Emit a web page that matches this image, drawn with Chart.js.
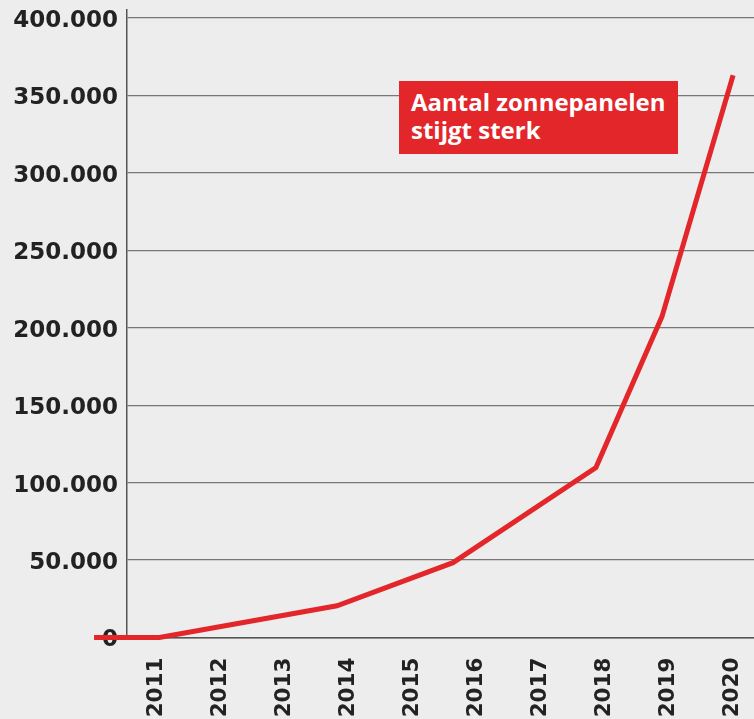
<!DOCTYPE html>
<html>
<head>
<meta charset="utf-8">
<script src="https://cdn.jsdelivr.net/npm/chart.js@4"></script>
<style>
  html, body { margin: 0; padding: 0; background: #ededed; }
  #wrap { position: relative; width: 754px; height: 719px; }
  #note {
    position: absolute; left: 399px; top: 81px; width: 279px; height: 73px;
    box-sizing: border-box; padding: 7px 0 0 12px;
    background: #e3262a; color: #fff;
    font-family: "Open Sans", sans-serif; font-weight: 700; font-size: 24px; line-height: 28px;
  }
</style>
</head>
<body>
<div id="wrap">
  <canvas id="chart" width="754" height="719"></canvas>
  <div id="note">Aantal zonnepanelen<br>stijgt sterk</div>
</div>
<script>
// years on the axis
const yearLabels = [2011, 2012, 2013, 2014, 2015, 2016, 2017, 2018, 2019, 2020];
const yTicks = [0, 50000, 100000, 150000, 200000, 250000, 300000, 350000, 400000];

// points (fractional year, number of panels)
const pointYears = [2010.08, 2011.1, 2013.87, 2015.68, 2017.91, 2018.94, 2020.05];
const panelCounts = [0, 0, 20500, 48300, 109700, 207200, 363000];

const red = "#e3262a";
const textColor = "#222";

function fmt(v) {
  return String(v).replace(/\B(?=(\d{3})+(?!\d))/g, ".");
}

const ctx = document.getElementById("chart").getContext("2d");
const chart = new Chart(ctx, {
  type: "line",
  data: {
    datasets: [
      {
        data: pointYears.map((x, i) => ({ x: x, y: panelCounts[i] })),
        borderColor: red,
        borderWidth: 5,
        pointRadius: 0,
        tension: 0,
        clip: false,
      },
    ],
  },
  options: {
    responsive: false,
    animation: false,
    devicePixelRatio: 1,
    layout: { padding: { top: 10, right: 0, left: 0, bottom: 0 } },
    plugins: { legend: { display: false }, tooltip: { enabled: false } },
    scales: {
      x: {
        type: "linear",
        min: 2010.594,
        max: 2020.376,
        afterBuildTicks: (s) => { s.ticks = yearLabels.map((v) => ({ value: v })); },
        afterFit: (s) => {
          s.height = 81.5;
          s.paddingLeft = 0;
          s.paddingRight = 0;
        },
        grid: { display: false, drawTicks: false },
        border: { color: "#555", width: 1.5 },
        ticks: {
          autoSkip: false,
          minRotation: 90,
          maxRotation: 90,
          padding: 20,
          labelOffset: 3,
          color: textColor,
          font: { family: "DejaVu Sans", weight: "bold", size: 21.5 },
          callback: (v) => String(v),
        },
      },
      y: {
        min: 0,
        max: 405170,
        afterBuildTicks: (s) => { s.ticks = yTicks.map((v) => ({ value: v })); },
        afterFit: (s) => {
          s.width = 127;
          s.paddingTop = 0;
          s.paddingBottom = 0;
        },
        grid: { color: "#777", lineWidth: 1.3, drawTicks: false },
        border: { color: "#555", width: 1.5 },
        ticks: {
          padding: 9,
          labelOffset: 3,
          color: textColor,
          font: { family: "DejaVu Sans", weight: "bold", size: 23 },
          callback: (v) => fmt(v),
        },
      },
    },
  },
});
</script>
</body>
</html>
